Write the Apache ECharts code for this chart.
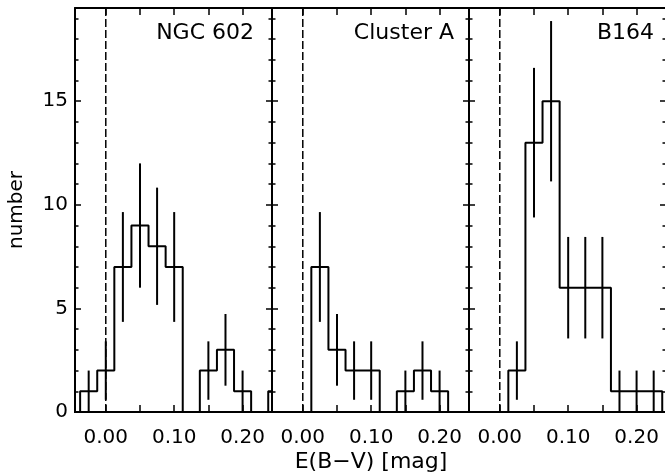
<!DOCTYPE html>
<html>
<head>
<meta charset="utf-8">
<script src="https://cdn.jsdelivr.net/npm/echarts@6/dist/echarts.min.js"></script>
<style>
    html, body { margin: 0; padding: 0; background: #fff; }
    #main { width: 665px; height: 476px; }
</style>
</head>
<body>
<div id="main"></div>
<script>
// bin centres of the E(B-V) histograms (bin width 0.025)
var centers = [-0.075, -0.05, -0.025, 0.0, 0.025, 0.05, 0.075, 0.1, 0.125, 0.15, 0.175, 0.2, 0.225, 0.25, 0.275];
// counts per bin
var ngc602   = [0, 0, 1, 2, 7, 9, 8, 7, 0, 2, 3, 1, 0, 1, 0];
var clusterA = [0, 0, 0, 0, 7, 3, 2, 2, 0, 1, 2, 1, 0, 0, 0];
var b164     = [0, 0, 0, 0, 2, 13, 15, 6, 6, 6, 1, 1, 1, 0, 0];
// half length of the error bars
var ngc602Err   = [0, 0, 1, 1.41, 2.65, 3, 2.83, 2.65, 0, 1.41, 1.73, 1, 0, 1, 0];
var clusterAErr = [0, 0, 0, 0, 2.65, 1.73, 1.41, 1.41, 0, 1, 1.41, 1, 0, 0, 0];
var b164Err     = [0, 0, 0, 0, 1.41, 3.61, 3.87, 2.45, 2.45, 2.45, 1, 1, 1, 0, 0];
var panelNames = ['NGC 602', 'Cluster A', 'B164'];
var xLabels = [0.0, 0.1, 0.2];
var xTicks = [0.0, 0.05, 0.1, 0.15, 0.2];
var yLabels = [0, 5, 10, 15];
var yMinor = [0, 1, 2, 3, 4, 5, 6, 7, 8, 9, 10, 11, 12, 13, 14, 15, 16, 17, 18, 19];

var counts = [ngc602, clusterA, b164];
var errs = [ngc602Err, clusterAErr, b164Err];

var FONT = 'DejaVu Sans';
var X_MIN = -0.045, X_MAX = 0.243, Y_MAX = 19.5;
var gridLeft = [75, 272, 469];

var grids = [], xAxes = [], yAxes = [], series = [], graphics = [];

for (var p = 0; p < 3; p++) {
    grids.push({ left: gridLeft[p], top: 8, width: 197, height: 404, outerBoundsMode: 'none' });

    var xBase = {
        gridIndex: p, type: 'value', min: X_MIN, max: X_MAX,
        axisLine: { show: true, onZero: false, lineStyle: { color: '#000', width: 2 } },
        axisTick: { show: true, inside: true, length: 7, customValues: xTicks, lineStyle: { color: '#000', width: 1.5 } },
        splitLine: { show: false }
    };
    // bottom
    xAxes.push(Object.assign({}, xBase, {
        position: 'bottom',
        axisLabel: {
            show: true, customValues: xLabels, margin: 16,
            fontFamily: FONT, fontSize: 20, color: '#000',
            formatter: function (v) { return v.toFixed(2); }
        }
    }));
    // top
    xAxes.push(Object.assign({}, xBase, { position: 'top', axisLabel: { show: false } }));

    ['left', 'right'].forEach(function (side) {
        var lbl = (p === 0 && side === 'left');
        // major ticks
        yAxes.push({
            gridIndex: p, type: 'value', min: 0, max: Y_MAX, position: side,
            axisLine: { show: true, onZero: false, lineStyle: { color: '#000', width: 2 } },
            axisTick: { show: true, inside: true, length: 6, customValues: yLabels, lineStyle: { color: '#000', width: 1.5 } },
            axisLabel: {
                show: lbl, customValues: yLabels, margin: 7,
                fontFamily: FONT, fontSize: 20, color: '#000'
            },
            splitLine: { show: false }
        });
        // minor ticks
        yAxes.push({
            gridIndex: p, type: 'value', min: 0, max: Y_MAX, position: side,
            axisLine: { show: false, onZero: false },
            axisTick: { show: true, inside: true, length: 3.5, customValues: yMinor, lineStyle: { color: '#000', width: 1.5 } },
            axisLabel: { show: false },
            splitLine: { show: false }
        });
    });

    // dashed line at E(B-V) = 0
    series.push({
        type: 'line', xAxisIndex: p * 2, yAxisIndex: p * 4,
        data: [[0, 0], [0, Y_MAX]], showSymbol: false, animation: false, silent: true,
        lineStyle: { color: '#000', width: 1.5, type: [8, 3] }
    });

    var stepData = centers.map(function (c, i) { return [c, counts[p][i]]; });
    series.push({
        type: 'line', step: 'middle', xAxisIndex: p * 2, yAxisIndex: p * 4,
        data: stepData, showSymbol: false, clip: true, animation: false,
        lineStyle: { color: '#000', width: 2 }
    });

    var errData = [];
    centers.forEach(function (c, i) {
        if (counts[p][i] > 0) {
            errData.push([c, Math.max(0, counts[p][i] - errs[p][i]), counts[p][i] + errs[p][i]]);
        }
    });
    series.push({
        type: 'custom', xAxisIndex: p * 2, yAxisIndex: p * 4,
        data: errData, clip: true, animation: false,
        encode: { x: 0, y: [1, 2] },
        renderItem: function (params, api) {
            var a = api.coord([api.value(0), api.value(1)]);
            var b = api.coord([api.value(0), api.value(2)]);
            return {
                type: 'line',
                shape: { x1: a[0], y1: a[1], x2: b[0], y2: b[1] },
                style: { stroke: '#000', lineWidth: 2 }
            };
        }
    });
}

// panel names
var nameRight = [254, 454, 654];
for (var k = 0; k < 3; k++) {
    graphics.push({
        type: 'text', x: nameRight[k], y: 33,
        style: { text: panelNames[k], fill: '#000', font: '22px "DejaVu Sans"', textAlign: 'right', textVerticalAlign: 'middle' }
    });
}
graphics.push({
    type: 'text', x: 17, y: 210, rotation: Math.PI / 2,
    style: { text: 'number', fill: '#000', font: '20px "DejaVu Sans"', textAlign: 'center', textVerticalAlign: 'middle' }
});
graphics.push({
    type: 'text', x: 371, y: 462,
    style: { text: 'E(B\u2212V) [mag]', fill: '#000', font: '22px "DejaVu Sans"', textAlign: 'center', textVerticalAlign: 'middle' }
});

var myChart = echarts.init(document.getElementById('main'), null, { renderer: 'canvas' });
myChart.setOption({
    backgroundColor: '#fff',
    animation: false,
    grid: grids,
    xAxis: xAxes,
    yAxis: yAxes,
    series: series,
    graphic: graphics
});
</script>
</body>
</html>
